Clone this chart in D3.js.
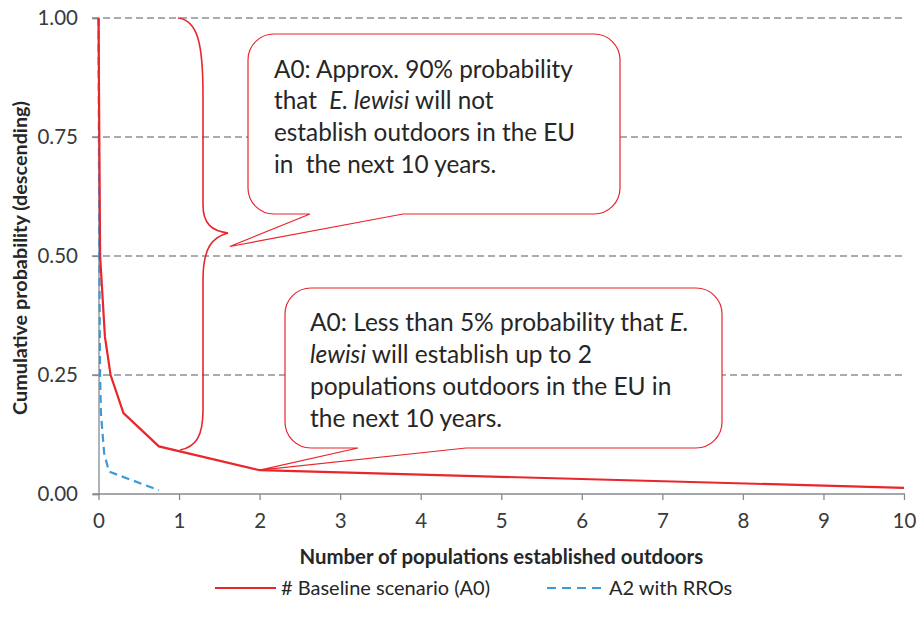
<!DOCTYPE html>
<html><head><meta charset="utf-8">
<script src="https://cdn.jsdelivr.net/npm/d3@7"></script>
<style>
body{margin:0;background:#fff;}
svg{display:block;font-family:Lato,"Open Sans",sans-serif;}
</style></head>
<body><svg id="c" width="919" height="628"></svg>
<script>
// ---- data ----
const xTicks = [0,1,2,3,4,5,6,7,8,9,10];
const yTicks = [0,0.25,0.5,0.75,1];
const baselineX = [0, 0.02, 0.08, 0.15, 0.31, 0.75, 2, 10];
const baselineY = [1.0, 0.5, 0.33, 0.25, 0.17, 0.10, 0.05, 0.013];
const rroX = [0, 0.01, 0.02, 0.03, 0.07, 0.13, 0.75];
const rroY = [1.0, 0.5, 0.246, 0.17, 0.086, 0.047, 0.008];
const seriesNames = ["# Baseline scenario (A0)", "A2 with RROs"];
const xTitle = "Number of populations established outdoors";
const yTitle = "Cumulative probability (descending)";

const svg = d3.select("#c");
const x = d3.scaleLinear().domain([0,10]).range([98.5,904]);
const y = d3.scaleLinear().domain([0,1]).range([494,18]);

// gridlines
svg.append("g").selectAll("line").data(yTicks.filter(d=>d>0)).join("line")
  .attr("x1",92).attr("x2",905).attr("y1",d=>y(d)).attr("y2",d=>y(d))
  .attr("stroke","#8c9096").attr("stroke-width",1.3).attr("stroke-dasharray","7,4");

// y axis
const ya = svg.append("g").attr("transform",`translate(${x(0)},0)`)
  .call(d3.axisLeft(y).tickValues(yTicks).tickFormat(d3.format(".2f")).tickSize(6).tickPadding(14.5));
ya.select(".domain").attr("stroke","#868a90").attr("stroke-width",1.3);
ya.selectAll(".tick line").attr("stroke","#868a90").attr("stroke-width",1.3);
ya.selectAll("text").attr("font-size",20.5).attr("fill","#3a3a3a").attr("font-family","Lato,sans-serif");

// x axis
const xa = svg.append("g").attr("transform",`translate(0,${y(0)})`)
  .call(d3.axisBottom(x).tickValues(xTicks).tickFormat(d3.format("d")).tickSize(6).tickPadding(13).tickSizeOuter(0));
xa.select(".domain").attr("stroke","#868a90").attr("stroke-width",1.3).attr("d",`M${x(0)-6},0H${x(10)+1}`);
xa.selectAll(".tick line").attr("stroke","#868a90").attr("stroke-width",1.3);
xa.selectAll("text").attr("font-size",20.5).attr("fill","#3a3a3a").attr("font-family","Lato,sans-serif");

// axis titles
svg.append("text").attr("x",(x(0)+x(10))/2).attr("y",564).attr("text-anchor","middle")
  .attr("font-weight","bold").attr("font-size",20.4).attr("fill","#262626").text(xTitle);
svg.append("text").attr("transform",`translate(27,${y(0.5)+2}) rotate(-90)`).attr("text-anchor","middle")
  .attr("font-weight","bold").attr("font-size",19.8).attr("fill","#262626").text(yTitle);

// series
const line = d3.line().x(d=>x(d[0])).y(d=>y(d[1]));
svg.append("path").datum(d3.zip(rroX,rroY)).attr("d",line).attr("fill","none")
  .attr("stroke","#3d9ad8").attr("stroke-width",2.2).attr("stroke-dasharray","8,5");
svg.append("path").datum(d3.zip(baselineX,baselineY)).attr("d",line).attr("fill","none")
  .attr("stroke","#e8262c").attr("stroke-width",2.2);

// brace
svg.append("path")
  .attr("d","M178,18 C198,20 203,45 203,95 L203,205 C203,224 212,231 228,233 C212,237 203,248 203,280 L203,410 C203,436 196,447 180,450")
  .attr("fill","none").attr("stroke","#e8262c").attr("stroke-width",1.6);

// callouts
function callout(r, tip, b1, b2){
  const rad = 26;
  const {x0,y0,x1,y1} = r;
  const p = d3.path();
  p.moveTo(x0+rad,y0); p.lineTo(x1-rad,y0); p.arcTo(x1,y0,x1,y0+rad,rad);
  p.lineTo(x1,y1-rad); p.arcTo(x1,y1,x1-rad,y1,rad);
  p.lineTo(b2,y1); p.lineTo(tip[0],tip[1]); p.lineTo(b1,y1);
  p.lineTo(x0+rad,y1); p.arcTo(x0,y1,x0,y1-rad,rad);
  p.lineTo(x0,y0+rad); p.arcTo(x0,y0,x0+rad,y0,rad); p.closePath();
  svg.append("path").attr("d",p.toString()).attr("fill","#fff").attr("stroke","#e8262c").attr("stroke-width",1.2);
}
callout({x0:248,y0:34,x1:620,y1:214},[x(1.63),y(0.52)],310,403);
callout({x0:285,y0:288,x1:722,y1:448},[x(2.0),y(0.05)],358,466);

function textBlock(x0, ys, lines, fs){
  lines.forEach((segs,i)=>{
    const t = svg.append("text").attr("x",x0).attr("y",ys[i]).attr("font-size",fs).attr("fill","#262626").attr("xml:space","preserve");
    segs.forEach(s=>{ t.append("tspan").attr("font-style",s[1]?"italic":"normal").text(s[0]); });
  });
}
textBlock(274,[78,109,141,173],[
  [["A0: Approx. 90% probability",0]],
  [["that  ",0],["E. lewisi",1],[" will not",0]],
  [["establish outdoors in the EU",0]],
  [["in  the next 10 years.",0]]
],24.3);
textBlock(310,[331,363,395,427],[
  [["A0: Less than 5% probability that ",0],["E.",1]],
  [["lewisi",1],[" will establish up to 2",0]],
  [["populations outdoors in the EU in",0]],
  [["the next 10 years.",0]]
],24.5);

// legend
const lg = svg.append("g");
lg.append("line").attr("x1",215).attr("x2",276).attr("y1",588).attr("y2",588).attr("stroke","#e8262c").attr("stroke-width",2.2);
lg.append("text").attr("x",281).attr("y",595).attr("font-size",20).attr("fill","#262626").text(seriesNames[0]);
lg.append("line").attr("x1",547).attr("x2",601).attr("y1",588).attr("y2",588).attr("stroke","#3d9ad8").attr("stroke-width",2.2).attr("stroke-dasharray","9,6");
lg.append("text").attr("x",609).attr("y",595).attr("font-size",20).attr("fill","#262626").text(seriesNames[1]);
</script></body></html>
